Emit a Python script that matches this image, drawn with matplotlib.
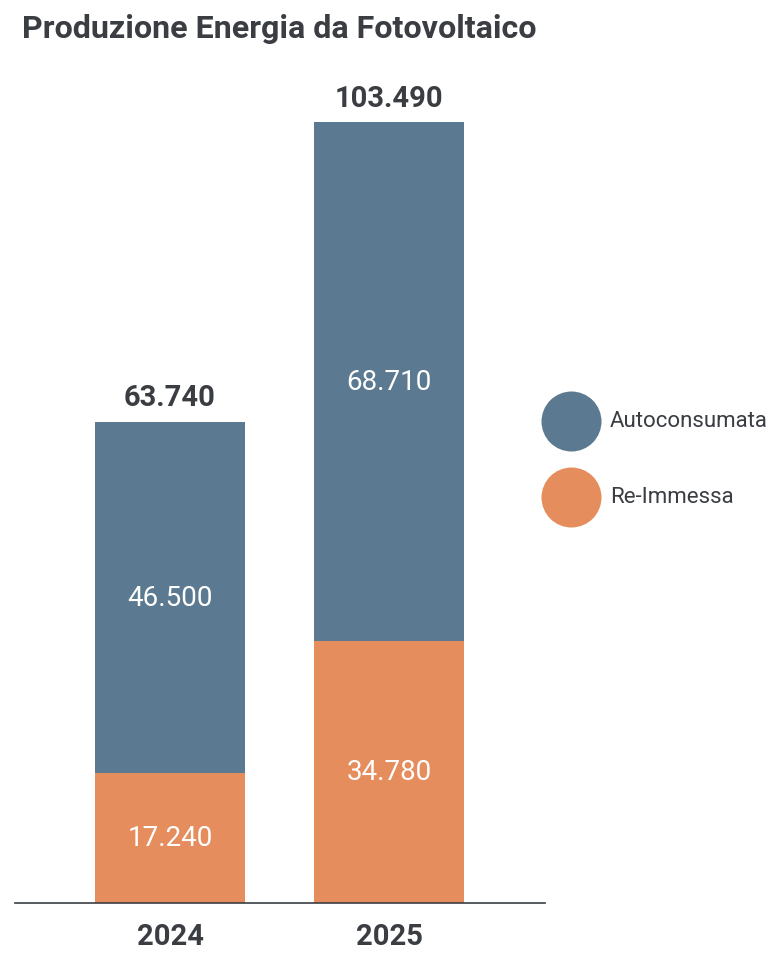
import matplotlib.pyplot as plt
from matplotlib import font_manager

years = ["2024", "2025"]
reimmessa = [17.240, 34.780]
autoconsumata = [46.500, 68.710]
totals = [63.740, 103.490]
series_labels = ["Autoconsumata", "Re-Immessa"]

BLUE = "#5b7a91"
ORANGE = "#e68d5e"
DARK = "#3a3d42"

names = {f.name for f in font_manager.fontManager.ttflist}
fam = "Liberation Sans Narrow" if "Liberation Sans Narrow" in names else "Roboto"
plt.rcParams["font.family"] = [fam, "DejaVu Sans"]


def fmt(v):
    # italian thousands separator style: 46.500
    return f"{v:.3f}"


W, H = 774, 954
fig = plt.figure(figsize=(W / 100, H / 100), dpi=100)

# main axes: baseline at y=904px, 15..545px horizontally
ax = fig.add_axes([15 / W, 50 / H, 530 / W, (904 - 74) / H])
x = [0, 1]
width = 0.685
ax.bar(x, reimmessa, width, color=ORANGE)
ax.bar(x, autoconsumata, width, bottom=reimmessa, color=BLUE)
ax.set_xlim(-0.708, 1.712)
ax.set_ylim(0, 110)

for i in x:
    ax.text(i, reimmessa[i] / 2, fmt(reimmessa[i]), ha="center", va="center",
            color="white", fontsize=20)
    ax.text(i, reimmessa[i] + autoconsumata[i] / 2, fmt(autoconsumata[i]),
            ha="center", va="center", color="white", fontsize=20)
    ax.text(i, totals[i] + 1.4, fmt(totals[i]), ha="center", va="bottom",
            color=DARK, fontsize=21, fontweight="bold")

for s in ["top", "right", "left"]:
    ax.spines[s].set_visible(False)
ax.spines["bottom"].set_color(DARK)
ax.spines["bottom"].set_linewidth(1.2)
ax.set_yticks([])
ax.set_xticks(x)
ax.set_xticklabels(years, fontsize=21, fontweight="bold", color=DARK)
ax.tick_params(axis="x", length=0, pad=14)

# overlay for title and legend, pixel coordinates
ov = fig.add_axes([0, 0, 1, 1], facecolor="none")
ov.set_xlim(0, W)
ov.set_ylim(H, 0)
ov.axis("off")
ov.text(22, 29, "Produzione Energia da Fotovoltaico", ha="left", va="center",
        fontsize=23.2, fontweight="bold", color=DARK)
for lbl, col, yy in zip(series_labels, [BLUE, ORANGE], [422, 498]):
    ov.scatter([571], [yy], s=1866, color=col, linewidths=0)
    ov.text(610, yy, lbl, ha="left", va="center", fontsize=16, color=DARK)

fig.savefig("out.png", dpi=100)
